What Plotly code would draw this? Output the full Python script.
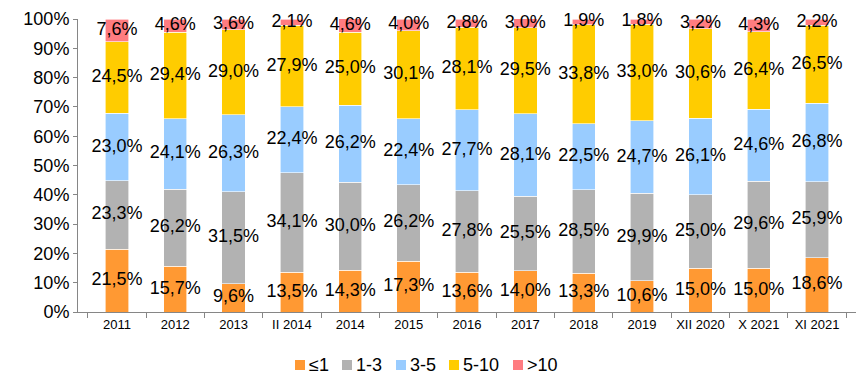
import plotly.graph_objects as go

periods = ["2011", "2012", "2013", "II 2014", "2014", "2015", "2016", "2017",
           "2018", "2019", "XII 2020", "X 2021", "XI 2021"]

le1 = [21.5, 15.7, 9.6, 13.5, 14.3, 17.3, 13.6, 14.0, 13.3, 10.6, 15.0, 15.0, 18.6]
r1_3 = [23.3, 26.2, 31.5, 34.1, 30.0, 26.2, 27.8, 25.5, 28.5, 29.9, 25.0, 29.6, 25.9]
r3_5 = [23.0, 24.1, 26.3, 22.4, 26.2, 22.4, 27.7, 28.1, 22.5, 24.7, 26.1, 24.6, 26.8]
r5_10 = [24.5, 29.4, 29.0, 27.9, 25.0, 30.1, 28.1, 29.5, 33.8, 33.0, 30.6, 26.4, 26.5]
gt10 = [7.6, 4.6, 3.6, 2.1, 4.6, 4.0, 2.8, 3.0, 1.9, 1.8, 3.2, 4.3, 2.2]

series_names = ["≤1", "1-3", "3-5", "5-10", ">10"]
series_values = [le1, r1_3, r3_5, r5_10, gt10]
colors = ["#FF9933", "#B2B2B2", "#99CCFF", "#FFCC00", "#FF7C80"]

FONT = "Liberation Sans, Arial, sans-serif"

W, H = 859, 374
ML, MR, MT, MB = 78, 3, 19, 62
PW, PH = W - ML - MR, H - MT - MB


def px_x(px):
    return (px - ML) / PW


def px_y(py):
    return (H - MB - py) / PH


fig = go.Figure()

for name, vals, col in zip(series_names, series_values, colors):
    fig.add_trace(go.Bar(
        x=periods, y=vals, name=name,
        marker=dict(color=col, line=dict(color="white", width=0.6)),
        width=0.4, showlegend=False,
    ))

# value labels at the middle of each stacked segment
base = [0.0] * len(periods)
for vals in series_values:
    mids = [b + v / 2 for b, v in zip(base, vals)]
    fig.add_trace(go.Scatter(
        x=periods, y=mids, mode="text",
        text=[f"{v:.1f}%".replace(".", ",") for v in vals],
        textfont=dict(family=FONT, size=18, color="black"),
        showlegend=False, hoverinfo="skip", cliponaxis=False,
    ))
    base = [b + v for b, v in zip(base, vals)]

# compact legend below the plot: colour square followed by its label
legend_icon_left = [295, 342, 396, 449, 513]
legend_cy = 365
shapes, annotations = [], []
for name, col, lx in zip(series_names, colors, legend_icon_left):
    shapes.append(dict(
        type="rect", xref="paper", yref="paper",
        x0=px_x(lx), x1=px_x(lx + 10),
        y0=px_y(legend_cy + 5), y1=px_y(legend_cy - 5),
        fillcolor=col, line=dict(width=0),
    ))
    annotations.append(dict(
        xref="paper", yref="paper", x=px_x(lx + 12), y=px_y(legend_cy),
        xanchor="left", yanchor="middle", text=name, showarrow=False,
        font=dict(family=FONT, size=18, color="black"),
    ))

fig.update_layout(
    barmode="stack",
    width=W, height=H,
    margin=dict(l=ML, r=MR, t=MT, b=MB, autoexpand=False),
    plot_bgcolor="white", paper_bgcolor="white",
    font=dict(family=FONT, color="black"),
    showlegend=False,
    shapes=shapes,
    annotations=annotations,
    xaxis=dict(
        type="category",
        showline=True, linecolor="#868686", linewidth=1,
        ticks="outside", tickson="boundaries", ticklen=5, tickcolor="#868686",
        tickfont=dict(family=FONT, size=13), tickangle=0,
        showgrid=False,
    ),
    yaxis=dict(
        range=[0, 100], dtick=10, ticksuffix="%",
        showline=True, linecolor="#868686", linewidth=1,
        ticks="outside", ticklen=4, tickcolor="#868686",
        tickfont=dict(family=FONT, size=18),
        showgrid=False, zeroline=False,
    ),
)

fig.write_html("out.html")
